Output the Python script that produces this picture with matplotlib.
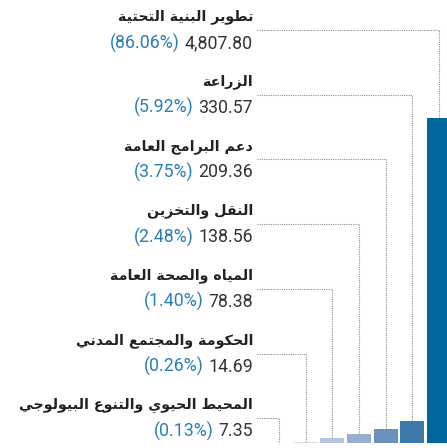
import matplotlib.pyplot as plt
import numpy as np

# sectors, largest first
sectors = ["تطوير البنية التحتية", "الزراعة", "دعم البرامج العامة", "النقل والتخزين",
           "المياه والصحة العامة", "الحكومة والمجتمع المدني", "المحيط الحيوي والتنوع البيولوجي"]
amounts = [4807.80, 330.57, 209.36, 138.56, 78.38, 14.69, 7.35]
shares = [86.06, 5.92, 3.75, 2.48, 1.40, 0.26, 0.13]
bar_colors = ["#00679e", "#3d78ab", "#6a90bc", "#97aecf", "#b7c6e0", "#d7dded", "#e6e9f2"]

# matplotlib does no arabic shaping, so pick presentation forms by hand
dual = {'ب': 0xFE8F, 'ت': 0xFE95, 'ث': 0xFE99, 'ج': 0xFE9D, 'ح': 0xFEA1, 'خ': 0xFEA5,
        'س': 0xFEB1, 'ش': 0xFEB5, 'ص': 0xFEB9, 'ض': 0xFEBD, 'ط': 0xFEC1, 'ظ': 0xFEC5,
        'ع': 0xFEC9, 'غ': 0xFECD, 'ف': 0xFED1, 'ق': 0xFED5, 'ك': 0xFED9, 'ل': 0xFEDD,
        'م': 0xFEE1, 'ن': 0xFEE5, 'ه': 0xFEE9, 'ي': 0xFEF1, 'ئ': 0xFE89}
right = {'ا': 0xFE8D, 'أ': 0xFE83, 'إ': 0xFE87, 'آ': 0xFE81, 'ؤ': 0xFE85, 'ة': 0xFE93,
         'د': 0xFEA9, 'ذ': 0xFEAB, 'ر': 0xFEAD, 'ز': 0xFEAF, 'و': 0xFEED, 'ى': 0xFEEF}


def shape(s):
    out = []
    for i, c in enumerate(s):
        prev = s[i - 1] if i > 0 else ' '
        nxt = s[i + 1] if i + 1 < len(s) else ' '
        jp = prev in dual
        jn = nxt in dual or nxt in right
        if c in dual:
            if jp and jn:
                out.append(chr(dual[c] + 3))
            elif jp:
                out.append(chr(dual[c] + 1))
            elif jn:
                out.append(chr(dual[c] + 2))
            else:
                out.append(chr(dual[c]))
        elif c in right:
            out.append(chr(right[c] + (1 if jp else 0)))
        else:
            out.append(c)
    return ''.join(reversed(out))


W, H = 447, 448
fig = plt.figure(figsize=(W / 100, H / 100), dpi=100)
base_px = 443          # bar baseline, px from top
ax = fig.add_axes([0, (H - base_px) / H, 1, base_px / H])
ax.axis('off')

n = len(amounts)
x0_px, step_px = 279, 26.67
ymax = max(amounts) * base_px / 325.0
ax.set_xlim(-x0_px / step_px, (W - x0_px) / step_px)
ax.set_ylim(0, ymax)

pos = np.arange(n)[::-1]      # largest bar sits on the right
ax.bar(pos, amounts, width=0.9, color=bar_colors, zorder=2)


def px_to_y(p):
    return (base_px - p) / base_px * ymax


def px_to_x(p):
    return (p - x0_px) / step_px


text_x = px_to_x(253)
lead_x = px_to_x(257)

fig.canvas.draw()
renderer = fig.canvas.get_renderer()

for k in range(n):
    yl_px = 30 + 64.7 * k
    yl = px_to_y(yl_px)
    # dotted leader over to the bar then down to its top
    ax.plot([lead_x, pos[k], pos[k]], [yl, yl, amounts[k]], color="#8f8f8f",
            lw=0.8, ls=(0, (1, 1)), zorder=1, clip_on=False)
    ax.text(text_x, px_to_y(yl_px - 13), shape(sectors[k]), ha='right', va='center',
            fontsize=10.3, fontweight='bold', family='DejaVu Sans', color="#222222")
    t = ax.text(text_x, px_to_y(yl_px + 13), f"{amounts[k]:,.2f}", ha='right', va='center',
                fontsize=12.8, family='Roboto', color="#333333")
    w = t.get_window_extent(renderer).width
    ax.annotate(f"({shares[k]:.2f}%)", xy=(text_x, px_to_y(yl_px + 13)),
                xytext=(-w - 5, 0), textcoords='offset pixels', ha='right', va='center',
                fontsize=12.8, family='Roboto', color="#2b7fb3")

fig.savefig("out.png", dpi=100)
